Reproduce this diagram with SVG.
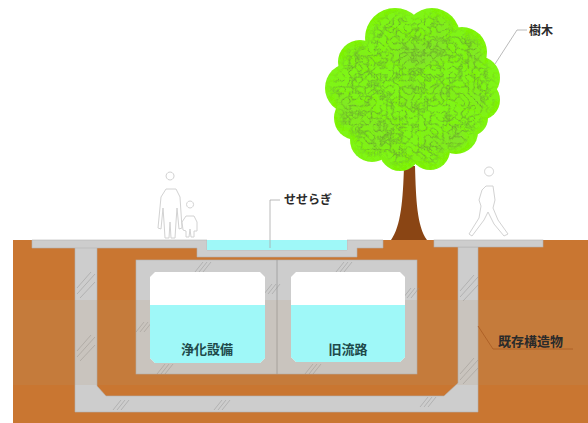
<svg xmlns="http://www.w3.org/2000/svg" xmlns:xlink="http://www.w3.org/1999/xlink" width="588" height="423" viewBox="0 0 588 423">
  <style>
    .soil { fill: #c97631; }
    .concrete { fill: #cdcdcd; stroke: #b3b3b3; stroke-width: 0.6; }
    .water { fill: #9ff8f8; }
    .cell { fill: #ffffff; }
    .lbl { font-family: "Noto Sans CJK JP", "Noto Sans", sans-serif; font-weight: 700; font-size: 12px; fill: #2a2a2a; }
    .cellLbl { font-family: "Noto Sans CJK JP", "Noto Sans", sans-serif; font-weight: 700; font-size: 13px; fill: #1e4a4a; text-anchor: middle; }
    .leader { fill: none; stroke: #a8a8a8; stroke-width: 0.8; }
    .person { fill: #ffffff; stroke: #d2d2d2; stroke-width: 1; stroke-linejoin: round; }
    .hatch path { stroke: #909090; stroke-width: 0.6; fill: none; opacity: 0.75; }
  </style>
  <defs>
    <g id="hatch" class="hatch"><path d="M0,10 L8,0 M4,10 L12,0 M8,10 L16,0"/></g>
    <g id="hatchV" class="hatch"><path d="M0,16 L14,0 M0,22 L18,2 M3,26 L18,10"/></g>
    <filter id="leafy" x="0" y="0" width="100%" height="100%">
      <feTurbulence type="turbulence" baseFrequency="0.16" numOctaves="3" seed="7" result="noise"/>
      <feColorMatrix in="noise" type="matrix" values="0 0 0 0 0.14  0 0 0 0 0.32  0 0 0 0 0.03  -2.6 0 0 0 0.85" result="veins"/>
      <feTurbulence type="fractalNoise" baseFrequency="0.03" numOctaves="2" seed="3" result="blotch"/>
      <feColorMatrix in="blotch" type="matrix" values="0 0 0 0 0.25  0 0 0 0 0.5  0 0 0 0 0.05  1.0 0 0 0 -0.45" result="shade"/>
      <feMorphology in="SourceAlpha" operator="erode" radius="5" result="inner"/>
      <feGaussianBlur in="inner" stdDeviation="3" result="innerSoft"/>
      <feComposite in="veins" in2="innerSoft" operator="in" result="texture"/>
      <feComposite in="shade" in2="innerSoft" operator="in" result="shadeIn"/>
      <feMerge><feMergeNode in="SourceGraphic"/><feMergeNode in="shadeIn"/><feMergeNode in="texture"/></feMerge>
    </filter>
  </defs>

  <rect width="588" height="423" fill="#ffffff"/>

  <!-- ground -->
  <g id="ground">
    <rect class="soil" x="13" y="240" width="575" height="183"/>
  </g>

  <!-- existing retaining structure (U-shaped wall) -->
  <g id="existing-structure">
    <path class="concrete" d="M75,247 H97 V386 L106,396 H444 L458,383 V247 H478 V412 H75 Z"/>
    <use xlink:href="#hatchV" x="77" y="272"/>
    <use xlink:href="#hatchV" x="77" y="335"/>
    <use xlink:href="#hatchV" x="460" y="275"/>
    <use xlink:href="#hatchV" x="460" y="358"/>
    <use xlink:href="#hatch" x="113" y="400"/>
    <use xlink:href="#hatch" x="214" y="400"/>
    <use xlink:href="#hatch" x="420" y="397"/>
  </g>

  <!-- pavement and stream channel -->
  <g id="channel">
    <path class="concrete" d="M32,240 H207 V250 H347 V240 H383 V248 H357 V257 H197 V248 H32 Z"/>
    <rect class="water" x="207" y="240" width="140" height="10"/>
    <rect class="concrete" x="434" y="240" width="109" height="7"/>
  </g>

  <!-- box culvert -->
  <g id="culvert">
    <rect class="concrete" x="136" y="260" width="281" height="114"/>
    <line x1="277" y1="260" x2="277" y2="374" stroke="#9a9a9a" stroke-width="0.8"/>
    <use xlink:href="#hatch" x="195" y="262"/>
    <use xlink:href="#hatch" x="336" y="262"/>
    <use xlink:href="#hatch" x="264" y="284"/>
    <use xlink:href="#hatch" x="403" y="288"/>
    <use xlink:href="#hatch" x="136" y="322"/>
    <use xlink:href="#hatch" x="157" y="364"/>
    <use xlink:href="#hatch" x="305" y="364"/>
  </g>

  <!-- middle soil layer -->
  <rect x="13" y="300" width="575" height="85" fill="#b49670" opacity="0.16"/>

  <g id="cell-purification">
    <path class="cell" d="M155,272 H260 L265,277 V358 L260,363 H155 L150,358 V277 Z"/>
    <path class="water" d="M150,305 H265 V358 L260,363 H155 L150,358 Z"/>
    <text class="cellLbl" x="207" y="354">浄化設備</text>
  </g>

  <g id="cell-old-channel">
    <path class="cell" d="M296,272 H400 L405,277 V357 L400,362 H296 L291,357 V277 Z"/>
    <path class="water" d="M291,305 H405 V357 L400,362 H296 L291,357 Z"/>
    <text class="cellLbl" x="348" y="354">旧流路</text>
  </g>

  <!-- tree -->
  <g id="tree">
    <path d="M404,166 H415 C416,200 417,226 427,240 H391 C401,226 403,200 404,166 Z" fill="#8a4514"/>
    <g filter="url(#leafy)" fill="#7ff514">
      <circle cx="395" cy="38" r="30"/>
      <circle cx="432" cy="36" r="28"/>
      <circle cx="462" cy="52" r="25"/>
      <circle cx="478" cy="78" r="22"/>
      <circle cx="480" cy="100" r="20"/>
      <circle cx="350" cy="88" r="25"/>
      <circle cx="360" cy="62" r="22"/>
      <circle cx="356" cy="118" r="22"/>
      <circle cx="372" cy="140" r="22"/>
      <circle cx="400" cy="150" r="21"/>
      <circle cx="430" cy="150" r="20"/>
      <circle cx="456" cy="132" r="22"/>
      <circle cx="470" cy="118" r="18"/>
      <circle cx="412" cy="95" r="50"/>
    </g>
  </g>

  <!-- people -->
  <g id="people-left">
    <path class="person" d="M170,180 a4,4 0 1,1 0.1,0 Z M166,189 H176 L180,197 L182,228 L179,229 L177,208 L176,222 L175,238 H171 L170,222 L169,238 H165 L164,222 L163,208 L161,229 L158,228 L161,197 Z"/>
    <path class="person" d="M190,208 a3.5,3.5 0 1,1 0.1,0 Z M186,216 H194 L197,222 L197,231 L194,231 L194,237 H191 L190,229 L189,237 H186 L186,231 L183,230 L182,222 Z"/>
  </g>
  <g id="person-right">
    <path class="person" d="M489,176 a4.5,4.5 0 1,1 0.1,0 Z M486,186 L493,186 L495,200 L493,208 L498,220 L508,234 L504,236 L494,224 L488,212 L484,220 L472,236 L469,234 L479,218 L481,206 L479,200 L482,190 Z"/>
  </g>

  <!-- leader lines -->
  <g id="connectors">
    <polyline class="leader" points="280,200 270,200 270,248"/>
    <polyline class="leader" points="527,30 517,30 495,64"/>
    <polyline points="478,326 493,349 573,349" fill="none" stroke="#a85a22" stroke-width="0.8"/>
  </g>

  <!-- labels -->
  <g id="labels">
    <text class="lbl" x="284" y="204">せせらぎ</text>
    <text class="lbl" x="529" y="35">樹木</text>
    <text class="lbl" x="498" y="346" style="font-size:13px">既存構造物</text>
  </g>
</svg>
